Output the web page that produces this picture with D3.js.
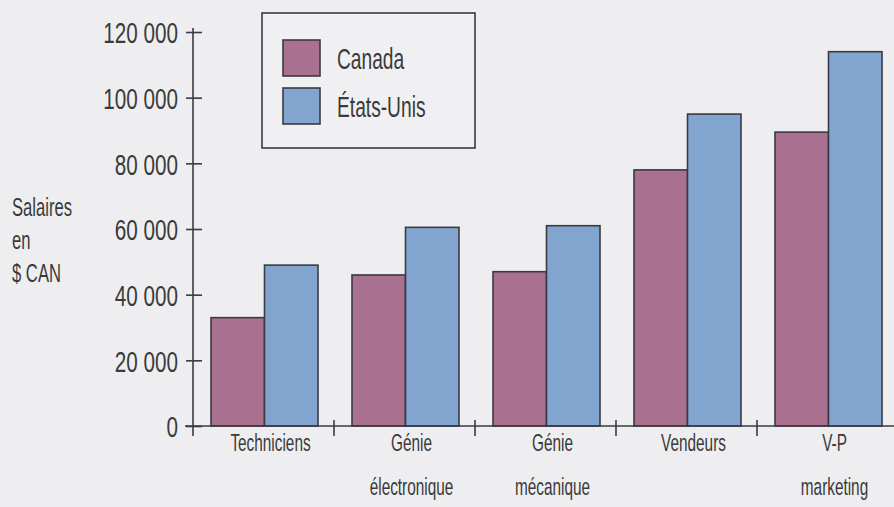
<!DOCTYPE html>
<html>
<head>
<meta charset="utf-8">
<script src="https://cdn.jsdelivr.net/npm/d3@7"></script>
<style>
  html, body { margin: 0; padding: 0; background: #eeeef0; }
  svg { display: block; }
  text { font-family: "Liberation Sans", Arial, sans-serif; fill: #3a3a3a; }
</style>
</head>
<body>
<svg id="chart" width="894" height="507"></svg>
<script>
const categories = ["Techniciens", "Génie électronique", "Génie mécanique", "Vendeurs", "V-P marketing"];
const categoryLines = [["Techniciens"], ["Génie", "électronique"], ["Génie", "mécanique"], ["Vendeurs"], ["V-P", "marketing"]];
const series = ["Canada", "États-Unis"];
const canadaValues = [33000, 46000, 47000, 78000, 89500];
const usValues = [49000, 60500, 61000, 95000, 114000];
const yTicks = [0, 20000, 40000, 60000, 80000, 100000, 120000];
const yTickLabels = ["0", "20 000", "40 000", "60 000", "80 000", "100 000", "120 000"];
const yTitleLines = ["Salaires", "en", "$ CAN"];
const colors = ["#a9718f", "#82a5cf"];

const svg = d3.select("#chart");
const ink = "#3a3a45";
const sx = 0.69;
const sxN = 0.64;

const y = d3.scaleLinear().domain([0, 120000]).range([426, 32]);
const x0 = d3.scaleBand().domain(categories).range([193, 898]).padding(0);
const x1 = d3.scaleBand().domain(series).range([18, 125]).padding(0);
const color = d3.scaleOrdinal().domain(series).range(colors);

const rows = categories.map((c, i) => ({ cat: c, lines: categoryLines[i], values: [canadaValues[i], usValues[i]] }));

// bars
const g = svg.selectAll("g.grp").data(rows).join("g")
  .attr("class", "grp")
  .attr("transform", d => `translate(${x0(d.cat)},0)`);
g.selectAll("rect").data(d => series.map((s, j) => ({ s, v: d.values[j] }))).join("rect")
  .attr("x", d => x1(d.s))
  .attr("width", x1.bandwidth())
  .attr("y", d => y(d.v))
  .attr("height", d => y(0) - y(d.v))
  .attr("fill", d => color(d.s))
  .attr("stroke", ink)
  .attr("stroke-width", 1.6);

// y axis
const yAxis = d3.axisLeft(y).tickValues(yTicks).tickSize(0).tickFormat((d, i) => yTickLabels[i]);
const ya = svg.append("g").attr("transform", "translate(193,0)").call(yAxis);
ya.select(".domain").remove();
ya.selectAll(".tick text").remove();
ya.append("line").attr("x1", 0).attr("x2", 0).attr("y1", y(120000) - 4).attr("y2", y(0) + 10)
  .attr("stroke", ink).attr("stroke-width", 1.6);
ya.selectAll(".tick").append("line").attr("x1", -7).attr("x2", 9)
  .attr("stroke", ink).attr("stroke-width", 1.6);
ya.selectAll(".tick").append("text")
  .attr("transform", `translate(-15,0) scale(${sx},1)`)
  .attr("text-anchor", "end")
  .attr("dy", "0.36em")
  .style("font-size", "30px")
  .text((d, i) => yTickLabels[i]);

// x axis
const xa = svg.append("g");
xa.append("line").attr("x1", 185).attr("x2", 894).attr("y1", y(0)).attr("y2", y(0))
  .attr("stroke", ink).attr("stroke-width", 1.6);
xa.selectAll("line.sep").data(categories.slice(1)).join("line").attr("class", "sep")
  .attr("x1", d => x0(d)).attr("x2", d => x0(d))
  .attr("y1", y(0) - 6).attr("y2", y(0) + 10)
  .attr("stroke", ink).attr("stroke-width", 1.6);
const lab = xa.selectAll("g.lab").data(rows).join("g").attr("class", "lab")
  .attr("transform", d => `translate(${x0(d.cat) + x0.bandwidth() / 2 + 7},0)`);
lab.selectAll("text").data(d => d.lines).join("text")
  .attr("transform", (d, i) => `translate(0,${451 + i * 44}) scale(${sxN},1)`)
  .attr("text-anchor", "middle")
  .style("font-size", "24px")
  .text(d => d);

// y title
svg.append("g").selectAll("text").data(yTitleLines).join("text")
  .attr("transform", (d, i) => `translate(12,${216 + i * 33}) scale(${sxN},1)`)
  .style("font-size", "26px")
  .text(d => d);

// legend
const lg = svg.append("g");
lg.append("rect").attr("x", 262).attr("y", 13).attr("width", 213).attr("height", 135)
  .attr("fill", "#f0f0f2").attr("stroke", ink).attr("stroke-width", 1.6);
const li = lg.selectAll("g.li").data(series).join("g").attr("class", "li")
  .attr("transform", (d, i) => `translate(283,${40 + i * 48})`);
li.append("rect").attr("width", 37).attr("height", 36)
  .attr("fill", d => color(d)).attr("stroke", ink).attr("stroke-width", 1.6);
li.append("text")
  .attr("transform", `translate(54,29) scale(${sxN},1)`)
  .style("font-size", "30px")
  .text(d => d);
</script>
</body>
</html>
